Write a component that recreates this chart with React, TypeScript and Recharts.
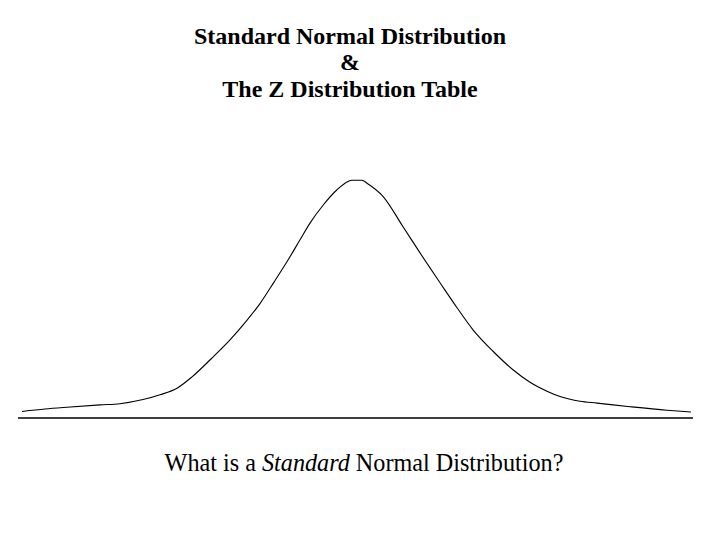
import React from "react";
import { LineChart, Line, XAxis, YAxis, ReferenceLine } from "recharts";

// z-scores
const zValues = [
  -4.941, -4.6, -4.274, -3.785, -3.489, -3.148, -2.896, -2.644, -2.422, -2.141,
  -1.859, -1.637, -1.415, -1.207, -1.0, -0.822, -0.674, -0.481, -0.274, -0.111,
  -0.052, 0.096, 0.17, 0.407, 0.704, 0.956, 1.252, 1.504, 1.741, 2.037, 2.333,
  2.585, 2.837, 3.03, 3.326, 3.578, 4.067, 4.615, 4.97,
];
// density values
const densityValues = [
  0.011, 0.015, 0.018, 0.022, 0.024, 0.031, 0.039, 0.05, 0.069, 0.099,
  0.131, 0.16, 0.192, 0.228, 0.265, 0.299, 0.327, 0.357, 0.383, 0.397,
  0.399, 0.399, 0.394, 0.372, 0.321, 0.277, 0.227, 0.185, 0.148, 0.112, 0.081,
  0.06, 0.045, 0.036, 0.028, 0.025, 0.019, 0.013, 0.01,
];

const titleLines = ["Standard Normal Distribution", "&", "The Z Distribution Table"];
const questionParts = ["What is a ", "Standard", " Normal Distribution?"];

const data = zValues.map((z, i) => ({ z, density: densityValues[i] }));

const serif = "'Liberation Serif', 'Times New Roman', Times, serif";

export default function App() {
  return (
    <div style={{ position: "absolute", left: 0, top: 0, width: 720, height: 540, background: "#fff" }}>
      <LineChart
        width={720}
        height={540}
        data={data}
        margin={{ top: 120, right: 27, bottom: 122, left: 18 }}
      >
        <XAxis dataKey="z" type="number" domain={[-5, 5]} allowDataOverflow hide />
        <YAxis type="number" domain={[0, 0.5]} hide width={0} allowDataOverflow />
        <ReferenceLine y={0} stroke="#000" strokeWidth={1.3} ifOverflow="visible" />
        <Line
          type="monotone"
          dataKey="density"
          stroke="#000"
          strokeWidth={1.1}
          dot={false}
          isAnimationActive={false}
        />
      </LineChart>
      <svg
        width={720}
        height={540}
        style={{ position: "absolute", left: 0, top: 0, pointerEvents: "none" }}
      >
        <text x={350} y={43.5} textAnchor="middle" fontSize={24} fontWeight="bold" style={{ fontFamily: serif }} fill="#000">
          {titleLines[0]}
        </text>
        <text x={350} y={70} textAnchor="middle" fontSize={24} fontWeight="bold" style={{ fontFamily: serif }} fill="#000">
          {titleLines[1]}
        </text>
        <text x={350} y={96.5} textAnchor="middle" fontSize={24} fontWeight="bold" style={{ fontFamily: serif }} fill="#000">
          {titleLines[2]}
        </text>
        <text x={364} y={471} textAnchor="middle" fontSize={24.2} style={{ fontFamily: serif }} fill="#000">
          <tspan>{questionParts[0]}</tspan>
          <tspan fontStyle="italic">{questionParts[1]}</tspan>
          <tspan>{questionParts[2]}</tspan>
        </text>
      </svg>
    </div>
  );
}
